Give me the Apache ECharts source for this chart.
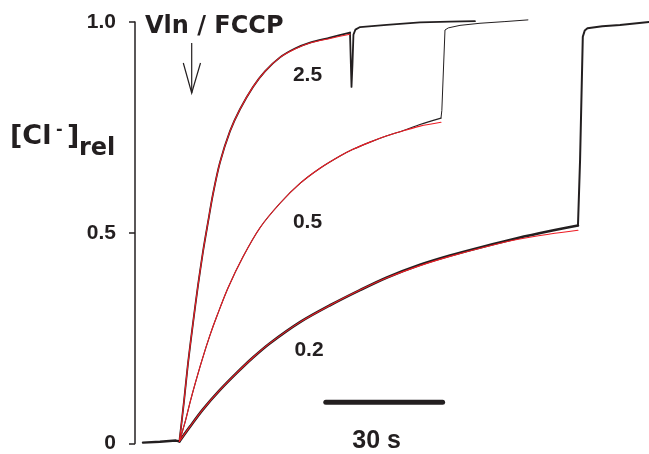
<!DOCTYPE html>
<html>
<head>
<meta charset="utf-8">
<script src="https://cdn.jsdelivr.net/npm/echarts@6/dist/echarts.min.js"></script>
<style>
  html, body { margin: 0; padding: 0; background: #fff; }
  #chart { width: 649px; height: 454px; }
</style>
</head>
<body>
<div id="chart"></div>
<script>
// time in s, [Cl-]rel
const baseline = [[2.05, 0.002], [6.4, 0.004], [10.5, 0.007], [11.4, 0.005]]

// 2.5 trace: rise, then dip and plateau
const rise25 = [[11.4, 0.005], [12.58, 0.1], [13.61, 0.19], [14.89, 0.285], [16.18, 0.375], [17.46, 0.455], [18.75, 0.525], [20.03, 0.592], [21.83, 0.667], [24.4, 0.741], [26.96, 0.793], [30.3, 0.846], [33.38, 0.883], [37.24, 0.916], [41.09, 0.937], [44.94, 0.951], [50.08, 0.963], [55.21, 0.975]]
const fit25 = [[11.4, 0.005], [12.58, 0.1], [13.61, 0.19], [14.89, 0.285], [16.18, 0.375], [17.46, 0.455], [18.75, 0.525], [20.03, 0.592], [21.83, 0.667], [24.4, 0.741], [26.96, 0.793], [30.3, 0.846], [33.38, 0.883], [37.24, 0.916], [41.09, 0.936], [44.94, 0.95], [50.08, 0.961], [55.21, 0.971]]
const after25 = [[55.21, 0.975], [55.6, 0.846], [55.85, 0.9], [56.1, 0.97], [56.6, 0.982], [57.8, 0.988], [64.64, 0.993], [73.19, 0.999], [80.9, 1.001], [87.3, 1.002]]

// 0.5 trace
const rise05 = [[11.4, 0.005], [12.84, 0.05], [14.12, 0.097], [15.41, 0.141], [17.21, 0.198], [19.26, 0.257], [21.06, 0.303], [23.88, 0.369], [27.74, 0.443], [32.1, 0.512], [37.24, 0.57], [42.37, 0.617], [47.51, 0.653], [52.65, 0.682], [55.98, 0.698], [60.35, 0.715], [64.71, 0.73], [69.34, 0.744], [73.19, 0.757], [78.58, 0.772]]
const fit05 = [[11.4, 0.005], [12.84, 0.05], [14.12, 0.097], [15.41, 0.141], [17.21, 0.198], [19.26, 0.257], [21.06, 0.303], [23.88, 0.369], [27.74, 0.443], [32.1, 0.512], [37.24, 0.57], [42.37, 0.617], [47.51, 0.653], [52.65, 0.682], [55.98, 0.698], [60.35, 0.715], [64.71, 0.73], [69.34, 0.743], [73.19, 0.753], [78.58, 0.762]]
const after05 = [[78.58, 0.772], [78.8, 0.79], [79.61, 0.981], [80.46, 0.986], [83.46, 0.992], [88.6, 0.997], [95, 1.001], [100.9, 1.005]]

// 0.2 trace
const rise02 = [[11.4, 0.005], [14.12, 0.04], [17.46, 0.081], [21.83, 0.127], [26.19, 0.168], [30.3, 0.204], [34.67, 0.238], [42.37, 0.288], [50.08, 0.328], [57.78, 0.364], [64.71, 0.394], [73.19, 0.424], [80.89, 0.446], [89.37, 0.467], [98.1, 0.487], [106.57, 0.504], [113.76, 0.517]]
const fit02 = [[11.4, 0.005], [14.12, 0.04], [17.46, 0.081], [21.83, 0.127], [26.19, 0.168], [30.3, 0.204], [34.67, 0.238], [42.37, 0.288], [50.08, 0.328], [57.78, 0.364], [64.71, 0.393], [73.19, 0.422], [80.89, 0.444], [89.37, 0.465], [98.1, 0.484], [106.57, 0.497], [113.76, 0.506]]
const after02 = [[113.76, 0.517], [114.3, 0.673], [115.0, 0.965], [115.5, 0.98], [116.2, 0.985], [120, 0.99], [124.55, 0.993], [132, 1.0]]

// 30 s scale bar
const scaleBar = [[49, 0.098], [79, 0.098]]

const yTicks = { 0: '0', 0.5: '0.5', 1: '1.0' }

const ink = '#231f20'
const red = '#ed1c24'

const line = (data, color, width, smooth) => ({
    type: 'line',
    data: data,
    symbol: 'none',
    smooth: smooth,
    clip: false,
    silent: true,
    lineStyle: { color: color, width: width, cap: 'round', join: 'round' }
})

const txt = (text, x, y, font, align) => ({
    type: 'text',
    x: x,
    y: y,
    silent: true,
    style: { text: text, font: font, fill: ink, align: align || 'left', verticalAlign: 'middle' }
})

let chart = echarts.init(document.getElementById('chart'))
chart.setOption({
    animation: false,
    backgroundColor: '#fff',
    grid: { left: 135, right: 0, top: 22, bottom: 10 },
    xAxis: { type: 'value', min: 0, max: 132, show: false },
    yAxis: {
        type: 'value',
        min: 0,
        max: 1,
        interval: 0.5,
        axisLine: { show: true, lineStyle: { color: ink, width: 1.5 } },
        axisTick: { show: true, length: 6, lineStyle: { color: ink, width: 1.5 } },
        splitLine: { show: false },
        axisLabel: {
            margin: 19,
            color: ink,
            fontFamily: 'Liberation Sans',
            fontWeight: 'bold',
            fontSize: 21,
            formatter: v => yTicks[v]
        }
    },
    series: [
        line(baseline, ink, 2.4, false),
        line(rise02, ink, 2.6, 0.3),
        line(after02, ink, 2.0, false),
        line(rise05, ink, 1.1, 0.3),
        line(after05, ink, 1.0, false),
        line(rise25, ink, 1.8, 0.3),
        line(after25, ink, 1.8, false),
        line(fit02, red, 1.1, 0.3),
        line(fit05, red, 1.1, 0.3),
        line(fit25, red, 1.1, 0.3),
        Object.assign(line(scaleBar, ink, 5, false), { lineStyle: { color: ink, width: 5, cap: 'round' } })
    ],
    graphic: [
        txt('Vln / FCCP', 145, 27, 'bold 24px "DejaVu Sans"'),
        // arrow
        {
            type: 'polyline', silent: true,
            shape: { points: [[191.7, 43], [191.7, 93]] },
            style: { stroke: ink, lineWidth: 1.2, fill: null }
        },
        {
            type: 'polyline', silent: true,
            shape: { points: [[183.3, 63], [191.7, 93], [200.5, 63]] },
            style: { stroke: ink, lineWidth: 1.2, fill: null }
        },
        // y axis title
        txt('[Cl', 10, 137, 'bold 27px "DejaVu Sans"'),
        txt('-', 56, 130, 'bold 16px "DejaVu Sans"'),
        txt(']', 67, 137, 'bold 27px "DejaVu Sans"'),
        txt('rel', 79, 149, 'bold 24px "DejaVu Sans"'),
        // curve labels
        txt('2.5', 307.5, 75.5, 'bold 21px "Liberation Sans"', 'center'),
        txt('0.5', 307.5, 222.5, 'bold 21px "Liberation Sans"', 'center'),
        txt('0.2', 309, 350.5, 'bold 21px "Liberation Sans"', 'center'),
        txt('30 s', 376.7, 441, 'bold 25px "Liberation Sans"', 'center')
    ]
})
</script>
</body>
</html>
